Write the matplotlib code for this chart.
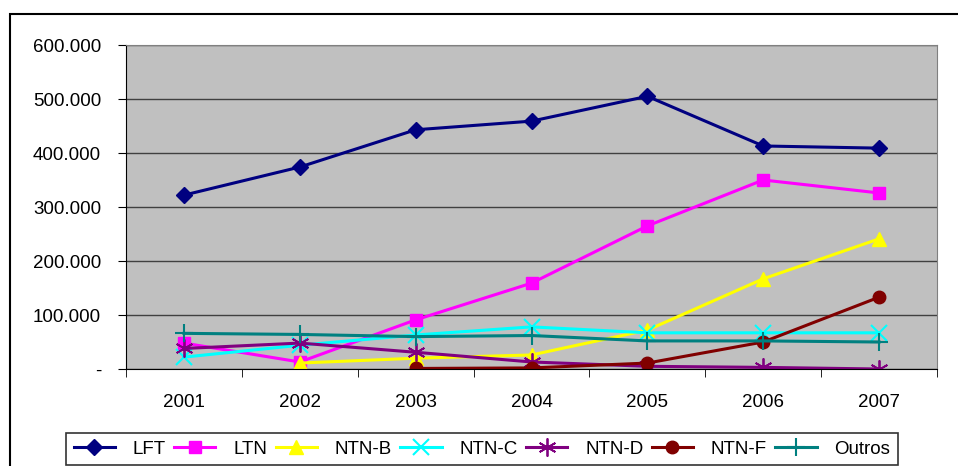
import numpy as np
import matplotlib
matplotlib.use("Agg")
import matplotlib.pyplot as plt
from matplotlib.ticker import FuncFormatter, FixedLocator
from matplotlib.patches import Rectangle

plt.rcParams['font.family'] = ['Liberation Sans', 'DejaVu Sans']

years = ["2001", "2002", "2003", "2004", "2005", "2006", "2007"]
lft = [322, 374, 443, 459, 505, 413, 409]
ltn = [48, 13, 91, 159, 265, 350, 326]
ntnb = [np.nan, 11, 20, 26, 72, 167, 241]
ntnc = [22, 44, 63, 78, 67, 67, 67]
ntnd = [38, 48, 31, 13, 5, 3, 0]
ntnf = [np.nan, np.nan, 1, 2, 11, 50, 133]
outros = [66, 64, 60, 62, 52, 52, 50]

series = [
    ("LFT", lft, "#000080", "D", 8, {}),
    ("LTN", ltn, "#FF00FF", "s", 9, {}),
    ("NTN-B", ntnb, "#FFFF00", "^", 10, {}),
    ("NTN-C", ntnc, "#00FFFF", "x", 11, {"markeredgewidth": 1.5}),
    ("NTN-D", ntnd, "#800080", (6, 2, 0), 13, {"markeredgewidth": 1.3}),
    ("NTN-F", ntnf, "#800000", "o", 9, {}),
    ("Outros", outros, "#008080", "+", 13, {"markeredgewidth": 1.5}),
]

fig = plt.figure(figsize=(9.58, 4.66), dpi=100)
fig.patch.set_facecolor("white")
# outer chart border
fig.patches.append(Rectangle((10/958, -0.05), 1.2, 1 - 14/466 + 0.05, transform=fig.transFigure,
                             fill=False, edgecolor="black", linewidth=1.5))

ax = fig.add_axes([126/958, 1 - 369/466, (937 - 126)/958, (369 - 45)/466])
ax.set_facecolor("#C0C0C0")
x = np.arange(len(years))
for name, vals, col, mk, ms, kw in series:
    v = np.array(vals, dtype=float) * 1000
    ax.plot(x, v, color=col, linewidth=2.2, marker=mk, markersize=ms,
            markerfacecolor=col, markeredgecolor=col, label=name, **kw)

ax.set_xlim(-0.5, len(years) - 0.5)
ax.set_ylim(0, 600000)
ax.set_yticks(np.arange(0, 600001, 100000))

def fmt(v, pos):
    if v == 0:
        return "-"
    return f"{int(v):,}".replace(",", ".")

ax.yaxis.set_major_formatter(FuncFormatter(fmt))
ax.grid(axis="y", color="#404040", linewidth=1)
ax.set_axisbelow(True)
ax.set_xticks(x)
ax.set_xticklabels(years)
ax.xaxis.set_minor_locator(FixedLocator(np.arange(-0.5, len(years), 1)))
ax.tick_params(axis="x", which="major", length=0, pad=18, labelsize=13.5)
ax.tick_params(axis="x", which="minor", length=6, direction="out", color="black")
ax.tick_params(axis="y", length=6, direction="out", color="black", labelsize=13.5, pad=12)
for s in ["top", "right"]:
    ax.spines[s].set_color("#808080")
ax.spines["left"].set_color("black")
ax.spines["bottom"].set_color("black")

leg = fig.legend(loc="upper left", bbox_to_anchor=(66/958, 1 - 433/466), ncol=7,
                 frameon=True, fancybox=False, edgecolor="black", fontsize=13.5,
                 handlelength=2.2, columnspacing=0.45, handletextpad=0.95,
                 borderaxespad=0, borderpad=0.4, numpoints=1)
leg.get_frame().set_linewidth(1.2)

fig.savefig("out.png", dpi=100)
